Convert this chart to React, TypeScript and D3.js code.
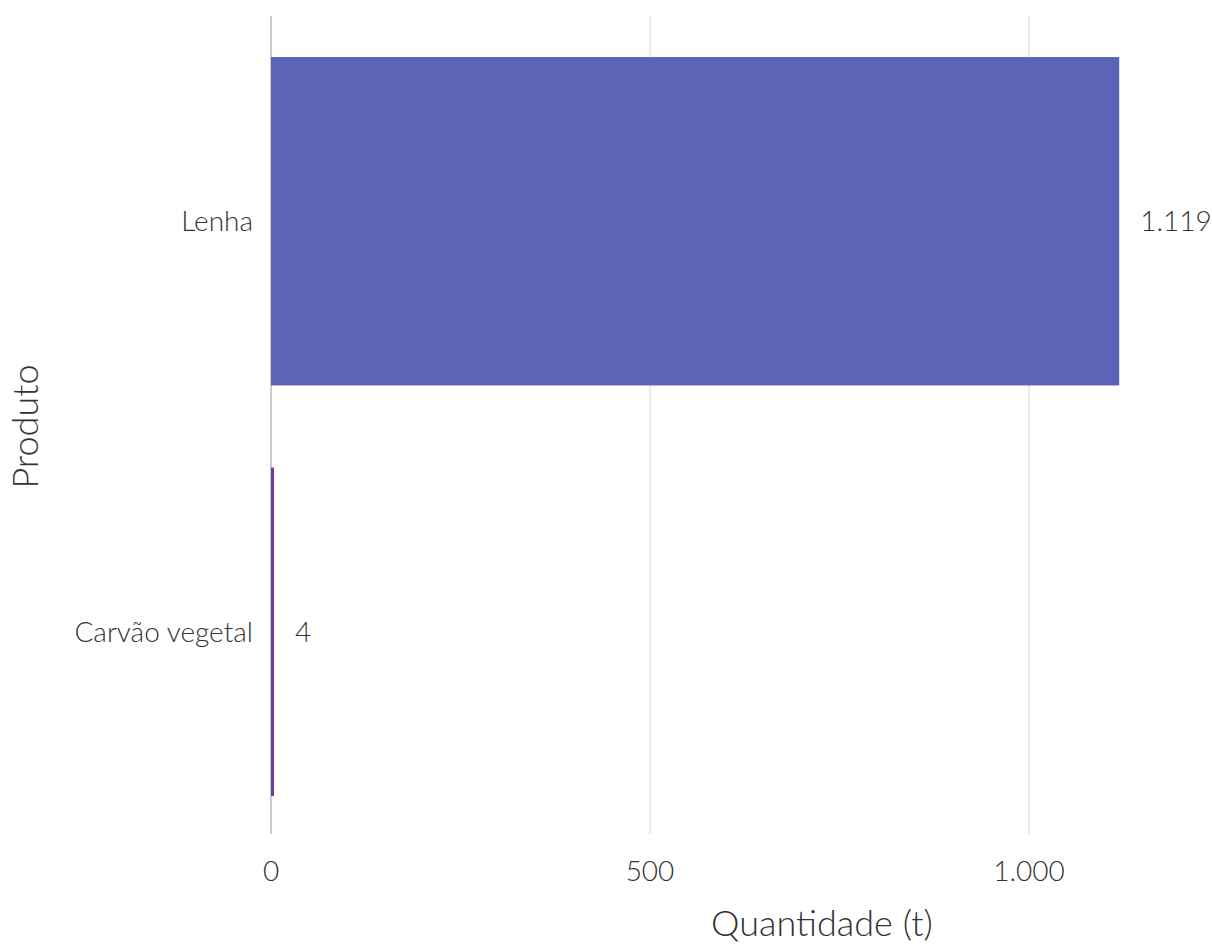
import React from "react";
import * as d3 from "d3";

const categories = ["Lenha", "Carvão vegetal"];
const values = [1119, 4];
const colors = ["#5B64B6", "#6C3FA0"];
const xTicks = [0, 500, 1000];

const W = 1212;
const H = 946;
const FONT = "Lato, 'Open Sans', sans-serif";

const fmt = (v: number) => d3.format(",")(v).replace(/,/g, ".");

export default function App() {
  const x = d3.scaleLinear().domain([0, 1000]).range([271, 1029]);
  const y = d3.scaleBand<string>().domain(categories).range([16, 837]).paddingInner(0.2).paddingOuter(0.1);
  return (
    <svg width={W} height={H} style={{ position: "absolute", left: 0, top: 0, background: "#fff" }}
      fontFamily={FONT} fontWeight={300}>
      {xTicks.map((t) => (
        <line key={"g" + t} x1={x(t)} x2={x(t)} y1={16} y2={834}
          stroke={t === 0 ? "#bdbdbd" : "#dedede"} strokeWidth={t === 0 ? 1.6 : 1.2} />
      ))}
      {categories.map((c, i) => (
        <g key={c}>
          <rect x={x(0)} y={y(c)!} width={x(values[i]) - x(0)} height={y.bandwidth()} fill={colors[i]} />
          <text x={x(values[i]) + 21} y={y(c)! + y.bandwidth() / 2} dy="0.35em" fontSize={28} fill="#333">
            {fmt(values[i])}
          </text>
          <text x={253} y={y(c)! + y.bandwidth() / 2} dy="0.35em" fontSize={28} fill="#333" textAnchor="end">
            {c}
          </text>
        </g>
      ))}
      {xTicks.map((t) => (
        <text key={"t" + t} x={x(t)} y={881} fontSize={28} fill="#333" textAnchor="middle">
          {fmt(t)}
        </text>
      ))}
      <text x={822} y={936} fontSize={36} fill="#333" textAnchor="middle">Quantidade (t)</text>
      <text transform={`translate(38,${(16 + 837) / 2}) rotate(-90)`} fontSize={36} fill="#333" textAnchor="middle">
        Produto
      </text>
    </svg>
  );
}
